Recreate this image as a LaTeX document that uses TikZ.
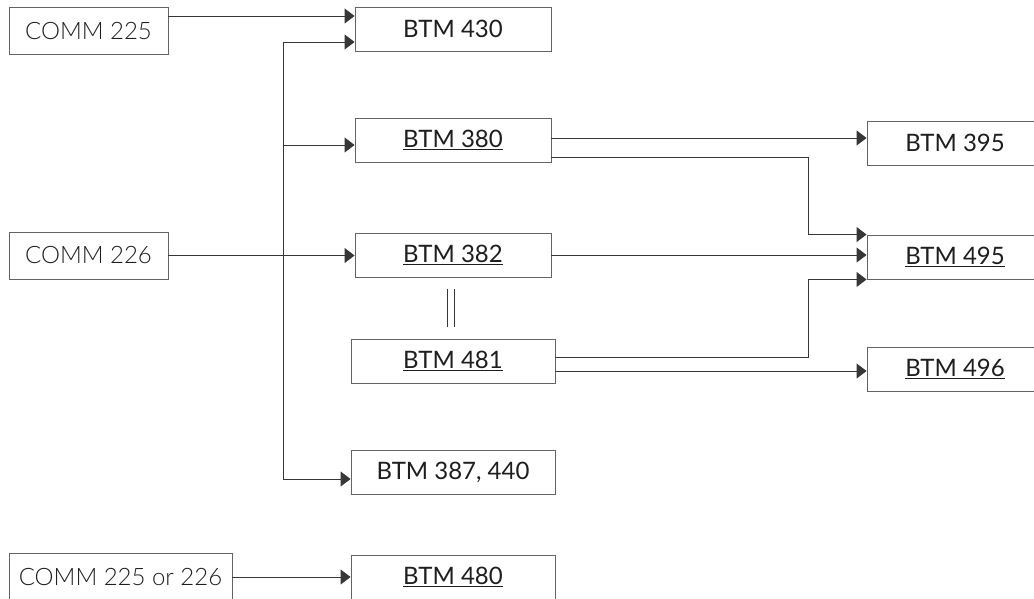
\documentclass[tikz,border=0pt]{standalone}
\usepackage{fontspec}
\setmainfont{Lato}
\newfontfamily\commfont{Lato Light}
\definecolor{boxgray}{RGB}{100,100,100}
\definecolor{linegray}{RGB}{55,55,55}
\definecolor{textgray}{RGB}{30,30,30}
\usetikzlibrary{arrows.meta,calc}

\begin{document}
\begin{tikzpicture}[x=1pt,y=-1pt,
        box/.style={rectangle,draw=boxgray,line width=0.9pt,minimum height=47pt,
                    inner sep=0pt,text=textgray},
        comm/.style={box,minimum width=159pt,font=\commfont\fontsize{24}{28}\selectfont},
        btm/.style={box,minimum height=44pt,minimum width=196pt,font=\fontsize{24}{28}\selectfont},
        arr/.style={-{Triangle[length=10pt,width=15pt]},line width=0.9pt,linegray},
        link/.style={line width=0.9pt,linegray}]

        \useasboundingbox (0,0) rectangle (1034,598);
        \clip (0,0) rectangle (1034,598);

        % left column
        \node[comm] (c225) at (88.5,31)    {COMM 225};
        \node[comm] (c226) at (88.5,255.5) {COMM 226};
        \node[comm,minimum width=223pt] (c225or) at (120.5,577) {COMM 225 or 226};

        % middle column
        \node[btm] (b430) at (453,29)  {BTM 430};
        \node[btm] (b380) at (453,140) {\underline{BTM 380}};
        \node[btm] (b382) at (453,255) {\underline{BTM 382}};
        \node[btm,minimum width=204pt] (b481) at (453,361) {\underline{BTM 481}};
        \node[btm,minimum width=204pt] (b387) at (453,472) {BTM 387, 440};
        \node[btm,minimum width=204pt] (b480) at (453,577) {\underline{BTM 480}};

        % right column
        \node[btm,minimum width=176pt] (b395) at (955,143) {BTM 395};
        \node[btm,minimum width=176pt] (b495) at (955,257) {\underline{BTM 495}};
        \node[btm,minimum width=176pt] (b496) at (955,369) {\underline{BTM 496}};

        % trunk from COMM 226
        \coordinate (jt) at (283,42);
        \coordinate (jb) at (283,479);
        \coordinate (a380) at ([yshift=-5pt]b380.west);
        \draw[link] (jt) -- (jb);
        \draw[arr] (jt) -- ([yshift=-13pt]b430.west);
        \draw[arr] (a380 -| jt) -- (a380);
        \draw[arr] (jb) -- ([yshift=-7pt]b387.west);
        \draw[arr] (c226.east) -- (c226.east -| b382.west);

        \draw[arr] ([yshift=15pt]c225.east) -- ([yshift=13pt]b430.west);
        \draw[arr] (c225or.east) -- (b480.west);

        % to the right column
        \draw[arr] ([yshift=2pt]b380.east) -- ([yshift=5pt]b395.west);
        \draw[arr] ([yshift=-17pt]b380.east) -- ++(257,0) |- (b495.north west);
        \draw[arr] (b382.east) -- (b382.east -| b495.west);
        \draw[arr] ([yshift=4pt]b481.east) -- ++(253,0) |- (b495.south west);
        \draw[arr] ([yshift=-10pt]b481.east) -- ([yshift=-10pt]b481.east -| b496.west);

        % concurrent
        \draw[link] ([xshift=-6pt,yshift=-12pt]b382.south) -- ++(0,38);
        \draw[link] ([xshift=1pt,yshift=-12pt]b382.south) -- ++(0,38);

    \end{tikzpicture}
\end{document}
